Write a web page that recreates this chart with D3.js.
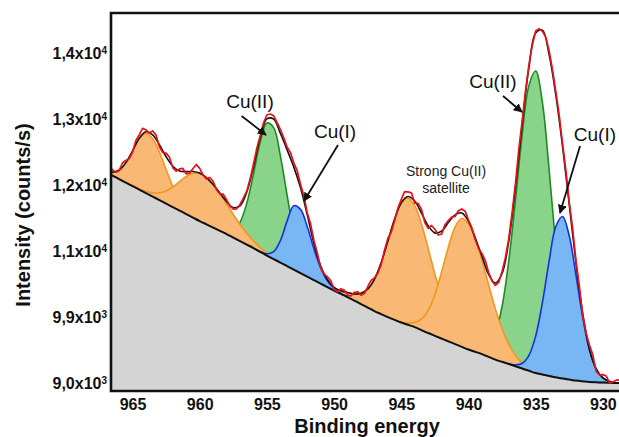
<!DOCTYPE html>
<meta charset="utf-8">
<title>Cu 2p XPS</title>
<style>
body { margin: 0; background: #fff; }
svg { display: block; font-family: "Liberation Sans", Arial, sans-serif; }
.tick text { font-size: 16px; font-weight: bold; fill: #111; }
.note { font-size: 19px; fill: #111; }
.note-small { font-size: 14px; fill: #222; }
.axis-title { font-size: 20px; font-weight: bold; fill: #111; }
</style>
<body>
<svg width="619" height="437"></svg>
<script src="https://d3js.org/d3.v7.min.js"></script>
<script>
// binding energy grids (eV): fit on 0.5 eV steps, measured data on 0.25 eV steps
var energy = d3.range(967, 928.4, -0.5);
var energyRaw = d3.range(967, 928.4, -0.25);

// Shirley-type background (counts/s) on the fit grid
var background = [12195, 12144, 12091, 12038, 11985, 11932, 11879, 11826, 11772, 11719,
  11666, 11613, 11560, 11507, 11454, 11405, 11356, 11306, 11257, 11204,
  11151, 11098, 11045, 10988, 10932, 10879, 10826, 10773, 10720, 10666,
  10613, 10560, 10507, 10454, 10401, 10352, 10303, 10250, 10197, 10144,
  10091, 10045, 10000, 9958, 9917, 9882, 9848, 9803, 9758, 9716,
  9674, 9632, 9591, 9549, 9508, 9473, 9439, 9397, 9356, 9322,
  9288, 9254, 9220, 9186, 9152, 9129, 9106, 9087, 9068, 9053,
  9038, 9026, 9015, 9011, 9008, 9004, 9000, 9000];

// measured spectrum (counts/s) on the 0.25 eV grid
var measured = [12230, 12277, 12234, 12195, 12215, 12333, 12371, 12398, 12495, 12677,
  12758, 12858, 12837, 12788, 12819, 12760, 12580, 12492, 12483, 12422,
  12260, 12212, 12244, 12251, 12168, 12180, 12251, 12312, 12252, 12153,
  12093, 12115, 12057, 11930, 11863, 11861, 11778, 11681, 11634, 11640,
  11706, 11800, 11906, 12090, 12314, 12559, 12744, 12943, 13061, 13076,
  13050, 12950, 12844, 12720, 12575, 12495, 12335, 12223, 12011, 11837,
  11582, 11411, 11160, 10972, 10744, 10656, 10608, 10552, 10416, 10383,
  10429, 10411, 10333, 10319, 10375, 10384, 10332, 10356, 10459, 10555,
  10591, 10663, 10795, 11013, 11190, 11285, 11460, 11651, 11782, 11899,
  11896, 11882, 11727, 11722, 11636, 11430, 11344, 11387, 11330, 11243,
  11256, 11399, 11461, 11513, 11524, 11611, 11638, 11604, 11470, 11351,
  11172, 11038, 10963, 10859, 10675, 10548, 10480, 10525, 10690, 10901,
  11192, 11591, 12030, 12548, 12985, 13435, 13824, 14119, 14333, 14370,
  14327, 14241, 14035, 13753, 13410, 13058, 12626, 12220, 11734, 11342,
  10850, 10466, 10022, 9760, 9577, 9427, 9177, 9123, 9128, 9106,
  9004, 9015, 9045, 9048, 9011];

// fitted components: height above background, 0.5 eV steps from the given start energy
var sat1 = [15, 50, 134, 296, 526, 764, 901, 876, 728, 517, 315, 164, 74, 28, 9, 2, 0];
var sat1Start = 967;
var sat2 = [0, 0, 0, 2, 4, 12, 27, 57, 110, 192, 304, 437, 569, 671, 719, 706, 651, 564, 459, 350,
  252, 170, 108, 64, 36, 19, 9, 4, 2, 0];
var sat2Start = 967;
var cu2Half = [0, 8, 32, 105, 283, 623, 1121, 1658, 2007, 1991, 1619, 1078, 588, 330, 180, 80, 30, 10, 0];
var cu2HalfStart = 959;
var cu1Half = [0, 4, 26, 111, 330, 680, 965, 965, 759, 475, 237, 94, 30, 7, 0];
var cu1HalfStart = 956;
var sat3 = [0, 10, 20, 40, 70, 100, 165, 280, 480, 775, 1150, 1522, 1806, 1918, 1839, 1608, 1283, 933, 619, 375,
  185, 85, 40, 15, 5, 0];
var sat3Start = 951;
var sat4 = [0, 9, 26, 70, 165, 343, 626, 1008, 1424, 1773, 1944, 1902, 1714, 1423, 1089, 768, 500, 298, 165, 84,
  39, 17, 7, 3, 0];
var sat4Start = 945.5;
var cu2Main = [0, 56, 159, 391, 838, 1566, 2528, 3550, 4324, 4575, 4122, 3124, 1988, 1063, 476, 181, 57, 15, 4, 0];
var cu2MainStart = 939.5;
var cu1Main = [0, 23, 81, 235, 559, 1089, 1742, 2285, 2455, 2175, 1596, 969, 487, 202, 70, 20, 5, 1];
var cu1MainStart = 937;

var xTicks = [965, 960, 955, 950, 945, 940, 935, 930];
var yTicks = [9000, 10000, 11000, 12000, 13000, 14000];
var yTickLabels = [["9,0x10", "3"], ["9,9x10", "3"], ["1,1x10", "4"], ["1,2x10", "4"], ["1,3x10", "4"], ["1,4x10", "4"]];

var orange = {fill: "#f9b874", stroke: "#f0971f"},
    green = {fill: "#8ad38a", stroke: "#1f8a22"},
    blue = {fill: "#78b6f4", stroke: "#1830df"};

// draw order: green first, orange over it, blue on top
var components = [
  {h: cu2Half, start: cu2HalfStart, c: green},
  {h: cu2Main, start: cu2MainStart, c: green},
  {h: sat1, start: sat1Start, c: orange},
  {h: sat2, start: sat2Start, c: orange},
  {h: sat3, start: sat3Start, c: orange},
  {h: sat4, start: sat4Start, c: orange},
  {h: cu1Half, start: cu1HalfStart, c: blue},
  {h: cu1Main, start: cu1MainStart, c: blue}
];

var svg = d3.select("svg"),
    padL = 111, padT = 13, baseY = 391, edgeR = 619;

var x = d3.scaleLinear().domain([966.6, 928.8]).range([padL, edgeR]);
var y = d3.scaleLinear().domain([8880, 14606]).range([baseY, padT]);

function gridIndex(e) { return Math.round((energy[0] - e) / 0.5); }

components.forEach(function(c) {
  c.points = c.h.map(function(v, i) {
    var e = c.start - i * 0.5, b = background[gridIndex(e)];
    return {e: e, lo: b, hi: b + v};
  });
});

// fit envelope = background + all components
var envelope = energy.map(function(e, i) {
  var s = background[i];
  components.forEach(function(c) {
    var k = Math.round((c.start - e) / 0.5);
    if (k >= 0 && k < c.h.length) s += c.h[k];
  });
  return s;
});

var defs = svg.append("defs");
defs.append("clipPath").attr("id", "plot")
  .append("rect").attr("x", padL).attr("y", padT).attr("width", edgeR - padL).attr("height", baseY - padT);

defs.append("marker")
    .attr("id", "head").attr("viewBox", "0 0 10 10").attr("refX", 9).attr("refY", 5)
    .attr("markerWidth", 9).attr("markerHeight", 9).attr("markerUnits", "userSpaceOnUse")
    .attr("orient", "auto")
  .append("path").attr("d", "M0,0L10,5L0,10z").attr("fill", "#111");

var plot = svg.append("g").attr("clip-path", "url(#plot)");
var curve = d3.curveCatmullRom;

// grey background region
plot.append("path")
  .datum(energy)
  .attr("fill", "#d4d4d4")
  .attr("d", d3.area().curve(curve)
    .x(function(e) { return x(e); })
    .y0(baseY)
    .y1(function(e, i) { return y(background[i]); }));

components.forEach(function(c) {
  plot.append("path").datum(c.points)
    .attr("fill", c.c.fill)
    .attr("d", d3.area().curve(curve)
      .x(function(d) { return x(d.e); })
      .y0(function(d) { return y(d.lo); })
      .y1(function(d) { return y(d.hi); }));
  plot.append("path").datum(c.points)
    .attr("fill", "none").attr("stroke", c.c.stroke).attr("stroke-width", 1.6)
    .attr("d", d3.line().curve(curve)
      .x(function(d) { return x(d.e); })
      .y(function(d) { return y(d.hi); }));
});

plot.append("path").datum(energy)
  .attr("fill", "none").attr("stroke", "#111").attr("stroke-width", 2)
  .attr("d", d3.line().curve(curve)
    .x(function(e) { return x(e); })
    .y(function(e, i) { return y(background[i]); }));

plot.append("path").datum(energy)
  .attr("fill", "none").attr("stroke", "#111").attr("stroke-width", 1.6)
  .attr("d", d3.line().curve(curve)
    .x(function(e) { return x(e); })
    .y(function(e, i) { return y(envelope[i]); }));

plot.append("path").datum(energyRaw)
  .attr("fill", "none").attr("stroke", "#e5141c").attr("stroke-width", 1.7)
  .attr("stroke-linejoin", "round")
  .attr("d", d3.line()
    .x(function(e) { return x(e); })
    .y(function(e, i) { return y(measured[i]); }));

// axes
var xAxis = svg.append("g").attr("transform", "translate(0," + baseY + ")")
  .call(d3.axisBottom(x).tickValues(xTicks).tickSize(0).tickPadding(8).tickFormat(d3.format("d")));
xAxis.select(".domain").remove();

var yAxis = svg.append("g").attr("transform", "translate(" + padL + ",0)")
  .call(d3.axisLeft(y).tickValues(yTicks).tickSize(0).tickPadding(4));
yAxis.select(".domain").remove();
yAxis.selectAll(".tick text").each(function(d, i) {
  var t = d3.select(this).text(null);
  t.append("tspan").text(yTickLabels[i][0]);
  t.append("tspan").attr("dy", "-0.45em").style("font-size", "10px").text(yTickLabels[i][1]);
});

// frame
svg.append("path")
  .attr("d", "M" + edgeR + "," + padT + "H" + padL + "V" + baseY + "H" + edgeR)
  .attr("fill", "none").attr("stroke", "#111").attr("stroke-width", 2.6);

svg.append("text").attr("class", "axis-title")
  .attr("x", 367).attr("y", 433).attr("text-anchor", "middle")
  .text("Binding energy");

svg.append("text").attr("class", "axis-title")
  .attr("transform", "translate(23,215)rotate(-90)")
  .attr("text-anchor", "middle").attr("dy", "0.35em")
  .text("Intensity (counts/s)");

// annotations (energy, counts)
var notes = [
  {text: "Cu(II)", e: 956.26, v: 13167, from: [956.88, 13046], to: [955.07, 12758]},
  {text: "Cu(I)", e: 949.93, v: 12712, from: [949.71, 12606], to: [952.24, 11758]},
  {text: "Cu(II)", e: 938.18, v: 13470, from: [937.43, 13349], to: [936.02, 13106]},
  {text: "Cu(I)", e: 930.59, v: 12667, from: [931.70, 12591], to: [933.19, 11576]}
];

notes.forEach(function(n) {
  svg.append("text").attr("class", "note")
    .attr("x", x(n.e)).attr("y", y(n.v)).attr("text-anchor", "middle").text(n.text);
  svg.append("line")
    .attr("x1", x(n.from[0])).attr("y1", y(n.from[1]))
    .attr("x2", x(n.to[0])).attr("y2", y(n.to[1]))
    .attr("stroke", "#111").attr("stroke-width", 1.8)
    .attr("marker-end", "url(#head)");
});

svg.append("text").attr("class", "note-small")
  .attr("x", x(941.67)).attr("y", y(12137)).attr("text-anchor", "middle").text("Strong Cu(II)");
svg.append("text").attr("class", "note-small")
  .attr("x", x(941.67)).attr("y", y(11879)).attr("text-anchor", "middle").text("satellite");
</script>
</body>
